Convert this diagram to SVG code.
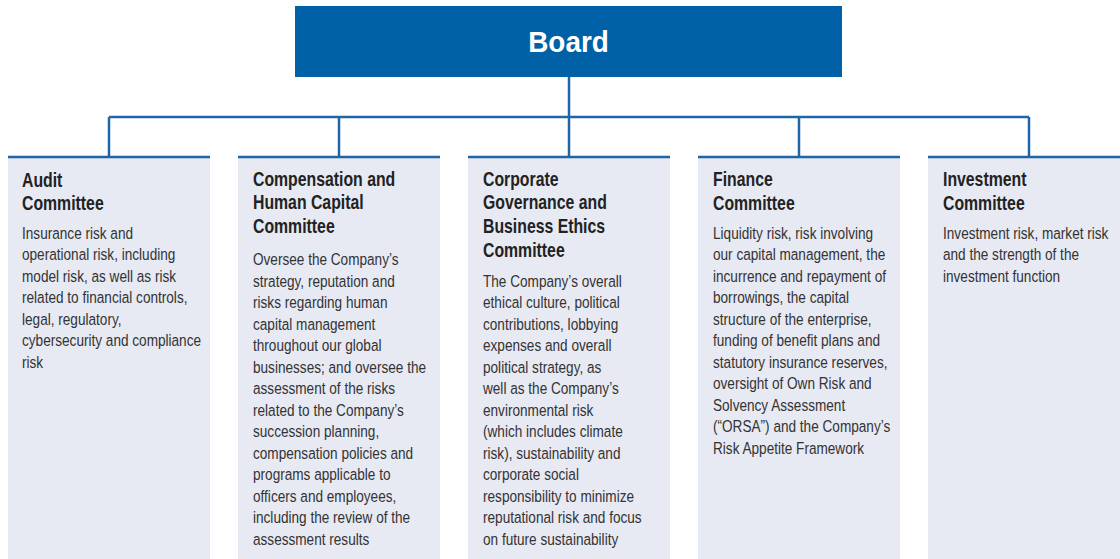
<svg xmlns="http://www.w3.org/2000/svg" width="1120" height="559" viewBox="0 0 1120 559">
<style>
.box{fill:#e7e9f3}
.top{stroke:#1f66a8;stroke-width:2.5}
.conn{stroke:#1f66a8;stroke-width:2.5;fill:none}
.t{font-family:"Liberation Sans",Arial,sans-serif;font-weight:bold;font-size:19.3px;fill:#222}
.b{font-family:"Liberation Sans",Arial,sans-serif;font-size:16.6px;fill:#333}
.board{font-family:"Liberation Sans",Arial,sans-serif;font-weight:bold;font-size:30px;fill:#fff}
</style>
<rect width="1120" height="559" fill="#fff"/>
<g id="connectors">
<path class="conn" d="M569 77V117M109 117H1029M109 117V157M339 117V157M569 117V157M799 117V157M1029 117V157"/>
</g>
<g id="board">
<rect x="295" y="6" width="547" height="71" fill="#0061a7"/>
<text class="board" transform="translate(568.5 0) scale(0.93 1)" x="0" y="52" text-anchor="middle">Board</text>
</g>
<g id="audit">
<rect class="box" x="8" y="157" width="202" height="402"/>
<line class="top" x1="8" y1="157" x2="210" y2="157"/>
<text class="t" transform="translate(22 0) scale(0.82 1)"><tspan x="0" y="187">Audit</tspan><tspan x="0" y="210.5">Committee</tspan></text>
<text class="b" transform="translate(22 0) scale(0.82 1)"><tspan x="0" y="239">Insurance risk and</tspan><tspan x="0" y="260.5">operational risk, including</tspan><tspan x="0" y="282">model risk, as well as risk</tspan><tspan x="0" y="303.5">related to financial controls,</tspan><tspan x="0" y="325">legal, regulatory,</tspan><tspan x="0" y="346.5">cybersecurity and compliance</tspan><tspan x="0" y="368">risk</tspan></text>
</g>
<g id="compensation">
<rect class="box" x="238" y="157" width="202" height="402"/>
<line class="top" x1="238" y1="157" x2="440" y2="157"/>
<text class="t" transform="translate(253 0) scale(0.82 1)"><tspan x="0" y="186">Compensation and</tspan><tspan x="0" y="209.5">Human Capital</tspan><tspan x="0" y="233">Committee</tspan></text>
<text class="b" transform="translate(253 0) scale(0.82 1)"><tspan x="0" y="265.5">Oversee the Company’s</tspan><tspan x="0" y="287">strategy, reputation and</tspan><tspan x="0" y="308.5">risks regarding human</tspan><tspan x="0" y="330">capital management</tspan><tspan x="0" y="351.5">throughout our global</tspan><tspan x="0" y="373">businesses; and oversee the</tspan><tspan x="0" y="394.5">assessment of the risks</tspan><tspan x="0" y="416">related to the Company’s</tspan><tspan x="0" y="437.5">succession planning,</tspan><tspan x="0" y="459">compensation policies and</tspan><tspan x="0" y="480.5">programs applicable to</tspan><tspan x="0" y="502">officers and employees,</tspan><tspan x="0" y="523.5">including the review of the</tspan><tspan x="0" y="545">assessment results</tspan></text>
</g>
<g id="corporate">
<rect class="box" x="468" y="157" width="202" height="402"/>
<line class="top" x1="468" y1="157" x2="670" y2="157"/>
<text class="t" transform="translate(483 0) scale(0.82 1)"><tspan x="0" y="186">Corporate</tspan><tspan x="0" y="209.5">Governance and</tspan><tspan x="0" y="233">Business Ethics</tspan><tspan x="0" y="257.5">Committee</tspan></text>
<text class="b" transform="translate(483 0) scale(0.82 1)"><tspan x="0" y="287">The Company’s overall</tspan><tspan x="0" y="308.5">ethical culture, political</tspan><tspan x="0" y="330">contributions, lobbying</tspan><tspan x="0" y="351.5">expenses and overall</tspan><tspan x="0" y="373">political strategy, as</tspan><tspan x="0" y="394.5">well as the Company’s</tspan><tspan x="0" y="416">environmental risk</tspan><tspan x="0" y="437.5">(which includes climate</tspan><tspan x="0" y="459">risk), sustainability and</tspan><tspan x="0" y="480.5">corporate social</tspan><tspan x="0" y="502">responsibility to minimize</tspan><tspan x="0" y="523.5">reputational risk and focus</tspan><tspan x="0" y="545">on future sustainability</tspan></text>
</g>
<g id="finance">
<rect class="box" x="698" y="157" width="202" height="402"/>
<line class="top" x1="698" y1="157" x2="900" y2="157"/>
<text class="t" transform="translate(713 0) scale(0.82 1)"><tspan x="0" y="186.5">Finance</tspan><tspan x="0" y="210">Committee</tspan></text>
<text class="b" transform="translate(713 0) scale(0.82 1)"><tspan x="0" y="239">Liquidity risk, risk involving</tspan><tspan x="0" y="260.5">our capital management, the</tspan><tspan x="0" y="282">incurrence and repayment of</tspan><tspan x="0" y="303.5">borrowings, the capital</tspan><tspan x="0" y="325">structure of the enterprise,</tspan><tspan x="0" y="346.5">funding of benefit plans and</tspan><tspan x="0" y="368">statutory insurance reserves,</tspan><tspan x="0" y="389.5">oversight of Own Risk and</tspan><tspan x="0" y="411">Solvency Assessment</tspan><tspan x="0" y="432.5">(“ORSA”) and the Company’s</tspan><tspan x="0" y="454">Risk Appetite Framework</tspan></text>
</g>
<g id="investment">
<rect class="box" x="928" y="157" width="192" height="402"/>
<line class="top" x1="928" y1="157" x2="1120" y2="157"/>
<text class="t" transform="translate(943 0) scale(0.82 1)"><tspan x="0" y="186.5">Investment</tspan><tspan x="0" y="210">Committee</tspan></text>
<text class="b" transform="translate(943 0) scale(0.82 1)"><tspan x="0" y="239">Investment risk, market risk</tspan><tspan x="0" y="260.5">and the strength of the</tspan><tspan x="0" y="282">investment function</tspan></text>
</g>
</svg>
